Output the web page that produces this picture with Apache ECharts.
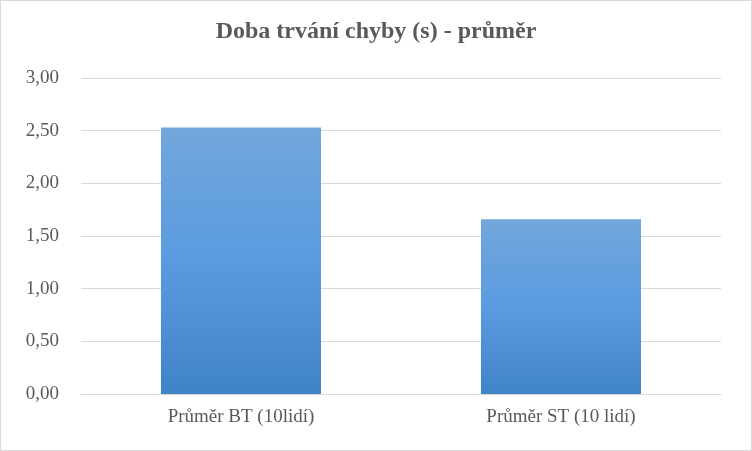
<!DOCTYPE html>
<html><head><meta charset="utf-8">
<script src="https://cdn.jsdelivr.net/npm/echarts@6/dist/echarts.min.js"></script>
<style>html,body{margin:0;padding:0;background:#fff}#c{width:750px;height:449px;border:1px solid #d9d9d9}</style>
</head><body><div id="c"></div>
<script>
const categories = ['Průměr BT (10lidí)', 'Průměr ST (10 lidí)'];
const values = [2.53, 1.66];
const chart = echarts.init(document.getElementById('c'));
chart.setOption({
  animation:false,
  title:{text:'Doba trvání chyby (s) - průměr',left:'center',top:14,
    textStyle:{fontFamily:'Liberation Serif',fontWeight:'bold',fontSize:24,color:'#595959'}},
  grid:{left:80,right:30,top:77,bottom:56},
  xAxis:{type:'category',data:categories,
    axisLine:{lineStyle:{color:'#d9d9d9'}},axisTick:{show:false},
    axisLabel:{fontFamily:'Liberation Serif',fontSize:19,color:'#595959',margin:14}},
  yAxis:{type:'value',min:0,max:3,interval:0.5,
    axisLabel:{fontFamily:'Liberation Serif',fontSize:19,color:'#595959',margin:22,
      formatter:v=>v.toFixed(2).replace('.',',')},
    splitLine:{lineStyle:{color:'#d9d9d9'}}},
  series:[{type:'bar',data:values,barWidth:'50%',
    itemStyle:{color:new echarts.graphic.LinearGradient(0,0,0,1,[{offset:0,color:'#72a7dc'},{offset:0.5,color:'#5a9be0'},{offset:1,color:'#3f84c6'}])}}]
});
</script></body></html>
